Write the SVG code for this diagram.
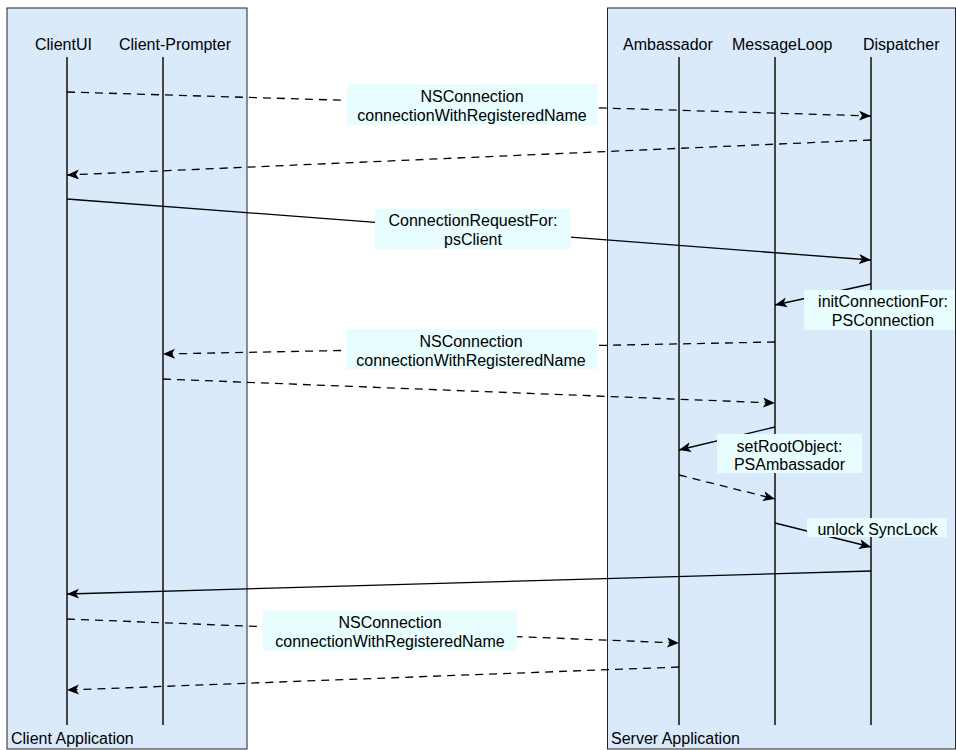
<svg xmlns="http://www.w3.org/2000/svg" width="956" height="750" viewBox="0 0 956 750">
  <style>
    text { font-family: "Liberation Sans", Arial, Helvetica, sans-serif; font-size: 16px; fill: #000; }
    .mid { text-anchor: middle; }
    .frame { fill: #daeafb; stroke: #222; stroke-width: 1; }
    .life { stroke: #444; stroke-width: 2; fill: none; }
    .msg { stroke: #000; stroke-width: 1.3; fill: none; marker-end: url(#head); }
    .dash { stroke-dasharray: 8 6; }
    .lbl { fill: #e8fdfd; stroke: none; }
  </style>
  <defs>
    <marker id="head" markerUnits="userSpaceOnUse" markerWidth="13" markerHeight="11" refX="12" refY="5" orient="auto">
      <path d="M0,0 L12,5 L0,10 L3,5 Z" fill="#000"/>
    </marker>
  </defs>

  <!-- Application frames -->
  <g id="client-application">
    <rect class="frame" x="7" y="8" width="240" height="741"/>
    <text x="11" y="744">Client Application</text>
  </g>
  <g id="server-application">
    <rect class="frame" x="607.5" y="8" width="348" height="741"/>
    <text x="611" y="744">Server Application</text>
  </g>

  <!-- Participants and lifelines -->
  <g id="clientui">
    <text x="35" y="50">ClientUI</text>
    <line class="life" x1="67" y1="57" x2="67" y2="725"/>
  </g>
  <g id="client-prompter">
    <text x="119" y="50">Client-Prompter</text>
    <line class="life" x1="163" y1="57" x2="163" y2="725"/>
  </g>
  <g id="ambassador">
    <text x="623" y="50">Ambassador</text>
    <line class="life" x1="679" y1="57" x2="679" y2="725"/>
  </g>
  <g id="messageloop">
    <text x="732" y="50">MessageLoop</text>
    <line class="life" x1="775" y1="57" x2="775" y2="725"/>
  </g>
  <g id="dispatcher">
    <text x="863" y="50">Dispatcher</text>
    <line class="life" x1="871" y1="57" x2="871" y2="725"/>
  </g>

  <!-- Messages -->
  <g id="connectors">
    <line class="msg dash" x1="67" y1="92" x2="871" y2="116"/>
    <rect class="lbl" x="347" y="84" width="251" height="41"/>
    <text class="mid" x="472" y="101.5">NSConnection</text>
    <text class="mid" x="472" y="120.5">connectionWithRegisteredName</text>

    <line class="msg dash" x1="871" y1="140" x2="67" y2="175"/>

    <line class="msg" x1="67" y1="199" x2="871" y2="260"/>
    <rect class="lbl" x="375" y="209" width="196" height="40"/>
    <text class="mid" x="473" y="225.5">ConnectionRequestFor:</text>
    <text class="mid" x="473" y="245">psClient</text>

    <line class="msg" x1="871" y1="284" x2="775" y2="305"/>
    <rect class="lbl" x="804" y="290" width="151" height="40"/>
    <text class="mid" x="883" y="306.5">initConnectionFor:</text>
    <text class="mid" x="883" y="326">PSConnection</text>

    <line class="msg dash" x1="775" y1="342" x2="163" y2="354"/>
    <rect class="lbl" x="346" y="329" width="251" height="40"/>
    <text class="mid" x="471" y="346.5">NSConnection</text>
    <text class="mid" x="471" y="365.5">connectionWithRegisteredName</text>

    <line class="msg dash" x1="163" y1="379" x2="775" y2="403"/>

    <line class="msg" x1="775" y1="427" x2="679" y2="450"/>
    <rect class="lbl" x="717" y="434" width="145" height="39"/>
    <text class="mid" x="789.5" y="451.5">setRootObject:</text>
    <text class="mid" x="789.5" y="470">PSAmbassador</text>

    <line class="msg dash" x1="679" y1="475" x2="775" y2="499"/>

    <line class="msg" x1="775" y1="523" x2="871" y2="547"/>
    <rect class="lbl" x="807" y="518" width="140" height="19"/>
    <text class="mid" x="877.5" y="535">unlock SyncLock</text>

    <line class="msg" x1="871" y1="571" x2="67" y2="594"/>

    <line class="msg dash" x1="67" y1="619" x2="679" y2="643"/>
    <rect class="lbl" x="263" y="611" width="254" height="40"/>
    <text class="mid" x="390" y="628">NSConnection</text>
    <text class="mid" x="390" y="646.5">connectionWithRegisteredName</text>

    <line class="msg dash" x1="679" y1="667" x2="67" y2="690"/>
  </g>
</svg>
